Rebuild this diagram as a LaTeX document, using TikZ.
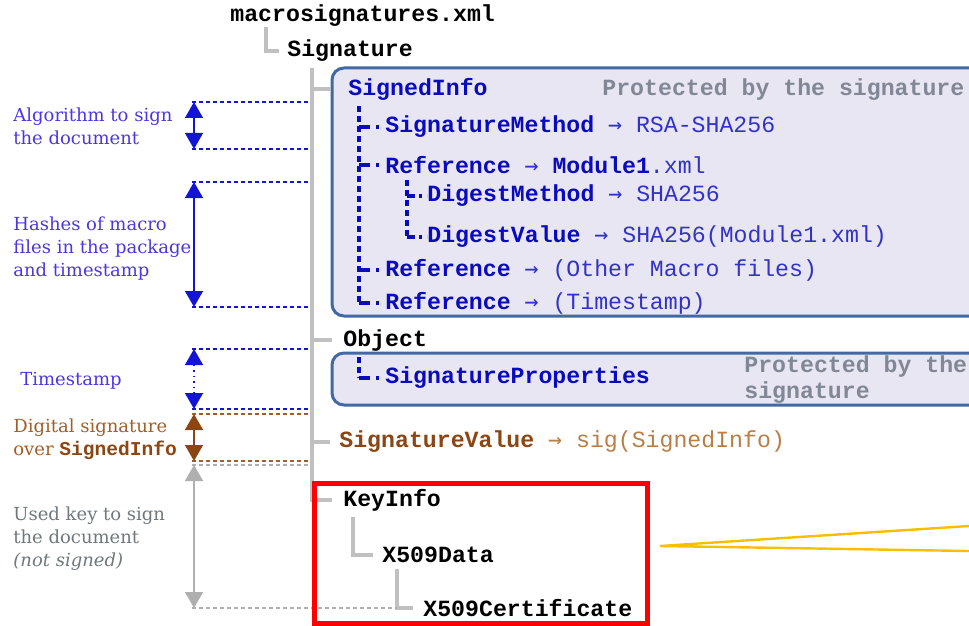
\documentclass[tikz,border=0pt]{standalone}
\usepackage{fontspec}
\setmainfont{DejaVu Serif}
\setmonofont{Liberation Mono}
\newfontfamily\arrfont{DejaVu Sans Mono}
\usepackage{xcolor}
\usepackage{tikz}
\usetikzlibrary{arrows.meta, positioning}

\definecolor{nodeblue}{RGB}{10,10,190}
\definecolor{valblue}{RGB}{50,50,200}
\definecolor{labblue}{RGB}{75,55,225}
\definecolor{dimblue}{RGB}{20,20,215}
\definecolor{boxline}{RGB}{65,105,165}
\definecolor{boxfill}{RGB}{232,230,242}
\definecolor{sigbrown}{RGB}{140,70,20}
\definecolor{valbrown}{RGB}{185,125,70}
\definecolor{labbrown}{RGB}{160,95,40}
\definecolor{protgray}{RGB}{130,135,150}
\definecolor{labgray}{RGB}{110,120,125}
\definecolor{treegray}{RGB}{192,192,192}
\definecolor{dimgray}{RGB}{175,175,175}
\definecolor{keyyellow}{RGB}{250,190,0}

\newcommand\arr{{\arrfont →}}
\newcommand\val[2]{{\mdseries\color{#1}\ \arr\ #2}}

\tikzset{
  tag/.style={font=\ttfamily\bfseries\fontsize{11.6}{13}\selectfont, anchor=west, inner sep=0pt},
  side/.style={font=\fontsize{9}{11.5}\selectfont, align=left, anchor=west, inner sep=0pt},
  gtree/.style={draw=treegray, line width=2pt},
  btree/.style={draw=nodeblue, line width=1.6pt, dash pattern=on 3pt off 2pt},
  bbranch/.style={draw=nodeblue, line width=1.6pt, dash pattern=on 5.5pt off 3pt on 1.5pt off 3pt},
  bbranch2/.style={draw=nodeblue, line width=1.6pt, dash pattern=on 4pt off 2pt on 1.5pt off 2.5pt},
  dimline/.style={line width=0.75pt, dash pattern=on 2pt off 1.5pt},
  dimarrow/.style={line width=0.75pt, {Triangle[width=9pt,length=8pt]}-{Triangle[width=9pt,length=8pt]}},
  infobox/.style={draw=boxline, fill=boxfill, line width=1.5pt, rounded corners=6pt}
}

\begin{document}
\begin{tikzpicture}[x=0.5pt,y=-0.5pt]
\useasboundingbox (0,0) rectangle (969,626);
\clip (0,0) rectangle (969,626);

\draw[infobox] (332,68) rectangle (1000,316);
\draw[infobox] (332,353) rectangle (1000,405);

\node[tag] (macro) at (230,16) {macrosignatures.xml};
\node[tag] (sig) at (287,51) {Signature};
\node[tag, text=nodeblue] (sinfo) at (348,89) {SignedInfo};
\node[tag, text=protgray] (prot1) at (602,90) {Protected by the signature};
\node[tag, text=nodeblue] (smeth) at (385,127) {SignatureMethod\val{valblue}{RSA-SHA256}};
\node[tag, text=nodeblue] (ref1) at (385,165) {Reference\val{valblue}{}Module1{\mdseries\color{valblue}.xml}};
\node[tag, text=nodeblue] (dmeth) at (427,196) {DigestMethod\val{valblue}{SHA256}};
\node[tag, text=nodeblue] (dval) at (427,237) {DigestValue\val{valblue}{SHA256(Module1.xml)}};
\node[tag, text=nodeblue] (ref2) at (385,270) {Reference\val{valblue}{(Other Macro files)}};
\node[tag, text=nodeblue] (ref3) at (385,303) {Reference\val{valblue}{(Timestamp)}};
\node[tag] (obj) at (343,340) {Object};
\node[tag, text=nodeblue] (sprop) at (385,378) {SignatureProperties};
\node[tag, text=protgray, align=left, font=\ttfamily\bfseries\fontsize{11.6}{13}\selectfont] (prot2) at (744,380) {Protected by the\\signature};
\node[tag, text=sigbrown] (sval) at (339,442) {SignatureValue\val{valbrown}{sig(SignedInfo)}};
\node[tag] (keyinfo) at (343,500) {KeyInfo};
\node[tag] (xdata) at (382,555) {X509Data};
\node[tag] (cert) at (423,608) {X509Certificate};

\coordinate (trunk) at ([xshift=12.5pt,yshift=-3pt]sig.south west);
\draw[gtree] ([xshift=18pt]macro.south west) |- ([xshift=-4pt]sig.west);
\draw[gtree] (trunk) |- ([xshift=-5.5pt]keyinfo.west);
\draw[gtree] (trunk |- sinfo.west) -- ([xshift=-8.5pt]sinfo.west);
\draw[gtree] (trunk |- obj.west) -- ([xshift=-5.5pt]obj.west);
\draw[gtree] (trunk |- sval.west) -- ([xshift=-4.5pt]sval.west);
\draw[gtree] ([xshift=5pt,yshift=-3pt]keyinfo.south west) |- ([xshift=-4.5pt]xdata.west);
\draw[gtree] ([xshift=7.5pt,yshift=-3pt]xdata.south west) |- ([xshift=-5pt]cert.west);

\coordinate (bt) at ([xshift=5.5pt,yshift=-3pt]sinfo.south west);
\draw[btree] (bt) -- (bt |- ref3.west);
\foreach \n in {smeth,ref1,ref2,ref3}
  \draw[bbranch] (bt |- \n.west) -- (\n.west);
\coordinate (bt2) at ([xshift=11pt,yshift=-3pt]ref1.south west);
\draw[btree] (bt2) -- (bt2 |- dval.west);
\foreach \n in {dmeth,dval}
  \draw[bbranch2] (bt2 |- \n.west) -- (\n.west);
\coordinate (bt3) at ([xshift=8pt,yshift=-3pt]obj.south west);
\draw[btree] (bt3) -- (bt3 |- sprop.west);
\draw[bbranch] (bt3 |- sprop.west) -- (sprop.west);

\node[side, text=labblue] (alg) at (13,126) {Algorithm to sign\\the document};
\node[side, text=labblue] (hash) at (13,249) {Hashes of macro\\files in the package\\and timestamp};
\node[side, text=labblue] (tstamp) at (20,381) {Timestamp};
\node[side, text=labbrown] (dsig) at (13,439) {Digital signature\\over {\ttfamily\bfseries\fontsize{9.8}{11.5}\selectfont\color{sigbrown}SignedInfo}};
\node[side, text=labgray] (ukey) at (13,539) {Used key to sign\\the document\\\textit{(not signed)}};

\foreach \y in {102,149,182,307,349,409}
  \draw[dimline, dimblue] (192,\y) -- (310,\y);
\draw[dimarrow, dimblue] (194,102) -- (194,149);
\draw[dimarrow, dimblue] (194,182) -- (194,307);
\draw[dimarrow, dimblue, dotted] (194,349) -- (194,409);
\draw[dimline, labbrown] (192,414) -- (310,414);
\draw[dimline, labbrown] (192,461) -- (310,461);
\draw[dimarrow, sigbrown] (194,414) -- (194,461);
\draw[dimline, dimgray] (192,465) -- (310,465);
\draw[dimline, dimgray] (192,608) -- ([xshift=7.5pt]xdata.south west |- cert.west);
\draw[dimarrow, dimgray] (194,465) -- (194,608);

\draw[red, line width=2.5pt] (314,483) rectangle (647,623);

\coordinate (wedge) at (660,546);
\draw[keyyellow, line width=1.2pt] (969,526) -- (wedge) -- (969,551);

\end{tikzpicture}
\end{document}
